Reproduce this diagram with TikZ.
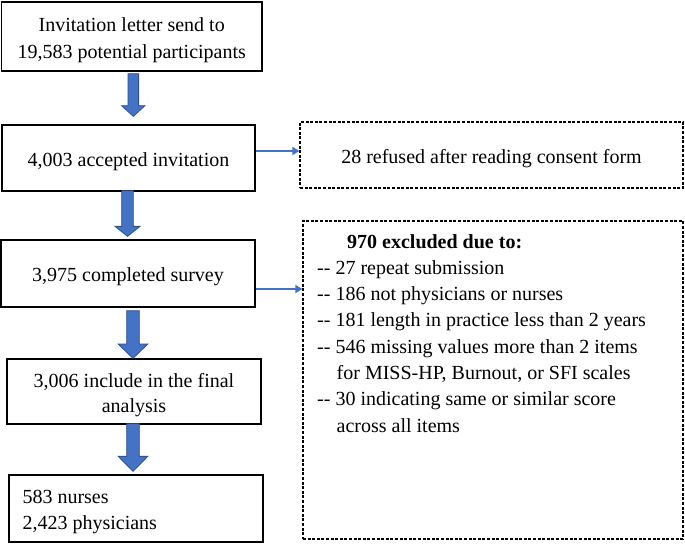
\documentclass[tikz,border=0pt]{standalone}
\usepackage{fontspec}
\setmainfont{Liberation Serif}
\usetikzlibrary{arrows.meta,calc}
\definecolor{arrblue}{HTML}{4472C4}
\definecolor{arredge}{HTML}{2F528F}
\newcommand\dd{-\kern0pt-}
% block arrow: #1 from, #2 to, #3 x, #4 shaft half, #5 head half, #6 head length, #7 top gap, #8 tip gap
\newcommand\blockarr[8]{%
  \draw[blk] let \p1=(#1.south), \p2=(#2.north) in
   (#3pt-#4pt,\y1-#7pt) -- (#3pt+#4pt,\y1-#7pt) -- (#3pt+#4pt,\y2+#8pt+#6pt)
   -- (#3pt+#5pt,\y2+#8pt+#6pt) -- (#3pt,\y2+#8pt) -- (#3pt-#5pt,\y2+#8pt+#6pt)
   -- (#3pt-#4pt,\y2+#8pt+#6pt) -- cycle;}
\tikzset{
  box/.style={draw=black, line width=1.3pt, inner sep=0pt},
  dbox/.style={draw=black, line width=1.2pt, dash pattern=on 3pt off 1.6pt, inner sep=0pt},
  intext/.style={inner sep=0pt, align=center, font=\fontsize{20}{26}\selectfont},
  blk/.style={fill=arrblue, draw=arredge, line width=0.8pt},
  thinarr/.style={draw=arrblue, line width=1.7pt, -{Triangle[length=7pt,width=8pt]}},
  txt/.style={inner sep=0pt, align=left, font=\fontsize{20}{26.3}\selectfont}
}
\begin{document}
\begin{tikzpicture}[x=1pt,y=-1pt]
\useasboundingbox[fill=white] (0,0) rectangle (685,544);

\node[box, minimum width=260.5pt, minimum height=69pt] (b1) at (131.75,36.5) {};
\node[box, minimum width=253pt, minimum height=66pt] (b2) at (128.5,158) {};
\node[box, minimum width=254pt, minimum height=67pt] (b3) at (128,273.5) {};
\node[box, minimum width=254pt, minimum height=65pt] (b4) at (134,391.5) {};
\node[box, minimum width=254pt, minimum height=67pt] (b5) at (136,508.5) {};
\node[dbox, minimum width=383pt, minimum height=66pt] (d1) at (491.5,155) {};
\node[dbox, minimum width=380pt, minimum height=318pt] (d2) at (493,380) {};

\node[intext, font=\fontsize{20}{27}\selectfont] (t1) at ([yshift=-3.5pt]b1.center)
  {Invitation letter send to\\19,583 potential participants};
\node[intext] (t2) at ([yshift=-3.5pt]b2.center) {4,003 accepted invitation};
\node[intext] (t3) at ([yshift=-3.5pt]b3.center) {3,975 completed survey};
\node[intext, font=\fontsize{20}{25}\selectfont] (t4) at ([yshift=-3.5pt]b4.center)
  {3,006 include in the final\\analysis};
\node[intext, align=left, anchor=west] (t5) at ([xshift=14pt,yshift=-3pt]b5.west)
  {583 nurses\\2,423 physicians};
\node[intext] (t6) at ([yshift=-3.5pt]d1.center) {28 refused after reading consent form};
\node[txt, anchor=north west] (d2t) at (317,234)
  {\hspace*{30pt}\textbf{970 excluded due to:}\\
   \dd{} 27 repeat submission\\
   \dd{} 186 not physicians or nurses\\
   \dd{} 181 length in practice less than 2 years\\
   \dd{} 546 missing values more than 2 items\\
   \hspace*{19.5pt}for MISS-HP, Burnout, or SFI scales\\
   \dd{} 30 indicating same or similar score\\
   \hspace*{19.5pt}across all items};

\blockarr{b1}{b2}{133.3}{5.3}{11.7}{10.7}{2}{8}
\blockarr{b2}{b3}{127.5}{5.8}{12.5}{10}{-1}{3}
\blockarr{b3}{b4}{133}{6.3}{14.8}{14.3}{3}{0}
\blockarr{b4}{b5}{133}{6.3}{14.8}{15}{-1}{3}

\draw[thinarr] ([yshift=7pt]b2.east) -- ([yshift=7pt]b2.east -| d1.west);
\draw[thinarr] ([yshift=-15.5pt]b3.east) -- ([yshift=-15.5pt]b3.east -| d2.west);
\end{tikzpicture}
\end{document}
